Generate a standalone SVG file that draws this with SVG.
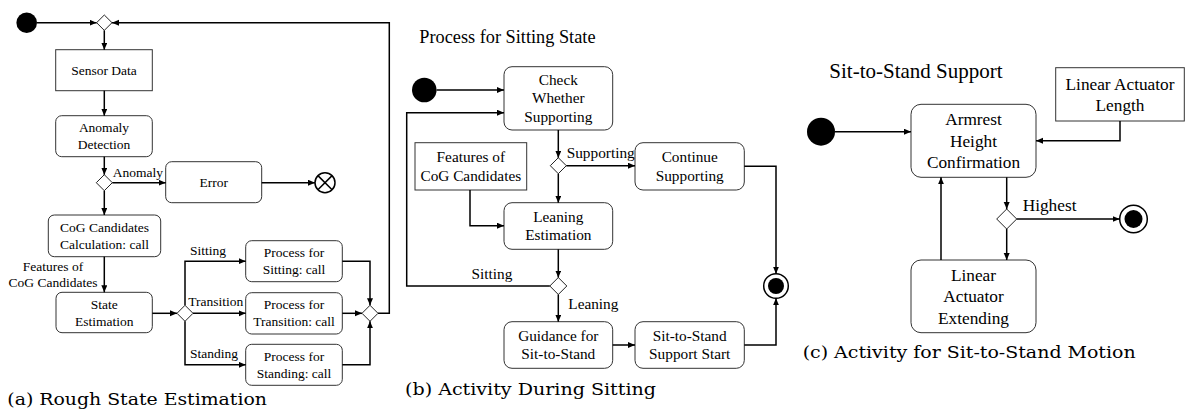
<svg xmlns="http://www.w3.org/2000/svg" width="1186" height="420" viewBox="0 0 1186 420">
<style>
.box{fill:#fff;stroke:#333;stroke-width:1}
.dia{fill:#fff;stroke:#222;stroke-width:1}
.ln{fill:none;stroke:#000;stroke-width:1.5}
.ta{font-family:"Liberation Serif","Times New Roman",serif;font-size:13.5px;fill:#000;text-anchor:middle}
.tb{font-family:"Liberation Serif","Times New Roman",serif;font-size:15.3px;fill:#000;text-anchor:middle}
.tc{font-family:"Liberation Serif","Times New Roman",serif;font-size:17.3px;fill:#000;text-anchor:middle}
.cap{font-family:"DejaVu Serif","Liberation Serif",serif;font-size:16px;fill:#000}
.l{text-anchor:start}
.r{text-anchor:end}
</style>
<defs>
<marker id="ar" markerUnits="userSpaceOnUse" markerWidth="8" markerHeight="7" refX="7" refY="3" orient="auto">
<path d="M0,0 L7,3 L0,6 z" fill="#000"/>
</marker>
</defs>
<!-- Panel (a) -->
<g id="a-start"><circle cx="26.7" cy="22.7" r="10.3" fill="#000"/></g>
<g id="a-merge1"><path class="dia" d="M104.3,15 L112,22.7 L104.3,30.4 L96.6,22.7 z"/></g>
<g id="a-sensor"><rect class="box" x="55.7" y="49.7" width="96.6" height="41"/><text class="ta" x="104" y="74.7">Sensor Data</text></g>
<g id="a-anomaly"><rect class="box" x="55.7" y="115.7" width="96.6" height="41" rx="6"/><text class="ta" x="104" y="132.2">Anomaly</text><text class="ta" x="104" y="149.2">Detection</text></g>
<g id="a-dec1"><path class="dia" d="M104.3,174.7 L112.3,182.7 L104.3,190.7 L96.3,182.7 z"/></g>
<g id="a-error"><rect class="box" x="165.7" y="161.7" width="96" height="41" rx="6"/><text class="ta" x="213.7" y="186.7">Error</text></g>
<g id="a-flowfinal"><circle cx="325" cy="182.7" r="10" fill="#fff" stroke="#000" stroke-width="1.5"/><path d="M317.9,175.6 L332.1,189.8 M332.1,175.6 L317.9,189.8" stroke="#000" stroke-width="1.5"/></g>
<g id="a-cog"><rect class="box" x="48.3" y="215" width="112.4" height="41.7" rx="6"/><text class="ta" x="104.5" y="231.8">CoG Candidates</text><text class="ta" x="104.5" y="248.8">Calculation: call</text></g>
<g id="a-state"><rect class="box" x="56" y="292.3" width="96.3" height="40.4" rx="6"/><text class="ta" x="104.2" y="308.5">State</text><text class="ta" x="104.2" y="325.5">Estimation</text></g>
<g id="a-dec2"><path class="dia" d="M185,305.3 L193,313.3 L185,321.3 L177,313.3 z"/></g>
<g id="a-sitting"><rect class="box" x="245.7" y="240.7" width="96.6" height="41" rx="6"/><text class="ta" x="294" y="257.2">Process for</text><text class="ta" x="294" y="274.2">Sitting: call</text></g>
<g id="a-transition"><rect class="box" x="245.7" y="292.7" width="96.6" height="41.3" rx="6"/><text class="ta" x="294" y="309.3">Process for</text><text class="ta" x="294" y="326.3">Transition: call</text></g>
<g id="a-standing"><rect class="box" x="245.7" y="344.3" width="96.6" height="41" rx="6"/><text class="ta" x="294" y="360.8">Process for</text><text class="ta" x="294" y="377.8">Standing: call</text></g>
<g id="a-merge2"><path class="dia" d="M370,305.3 L378,313.3 L370,321.3 L362,313.3 z"/></g>
<!-- Panel (b) -->
<text class="tb l" x="419.3" y="43" style="font-size:18.3px">Process for Sitting State</text>
<g id="b-start"><circle cx="424.3" cy="90" r="12.3" fill="#000"/></g>
<g id="b-check"><rect class="box" x="504" y="66.7" width="108.7" height="63.3" rx="8"/><text class="tb" x="558.3" y="85">Check</text><text class="tb" x="558.3" y="103.3">Whether</text><text class="tb" x="558.3" y="121.6">Supporting</text></g>
<g id="b-dec1"><path class="dia" d="M558.3,157.7 L566.3,165.7 L558.3,173.7 L550.3,165.7 z"/></g>
<g id="b-continue"><rect class="box" x="635" y="142.7" width="109.3" height="47.3" rx="8"/><text class="tb" x="689.7" y="162.2">Continue</text><text class="tb" x="689.7" y="180.5">Supporting</text></g>
<g id="b-features"><rect class="box" x="415" y="142.7" width="111.7" height="47.3"/><text class="tb" x="470.8" y="162.2">Features of</text><text class="tb" x="470.8" y="180.5">CoG Candidates</text></g>
<g id="b-leaning"><rect class="box" x="504" y="202.7" width="108.7" height="46.6" rx="8"/><text class="tb" x="558.3" y="221.9">Leaning</text><text class="tb" x="558.3" y="240.2">Estimation</text></g>
<g id="b-dec2"><path class="dia" d="M558.3,277.5 L566.8,286 L558.3,294.5 L549.8,286 z"/></g>
<g id="b-guidance"><rect class="box" x="504" y="321.7" width="108.7" height="46.6" rx="8"/><text class="tb" x="558.3" y="340.9">Guidance for</text><text class="tb" x="558.3" y="359.2">Sit-to-Stand</text></g>
<g id="b-sts"><rect class="box" x="635" y="321.7" width="109.3" height="46.6" rx="8"/><text class="tb" x="689.7" y="340.9">Sit-to-Stand</text><text class="tb" x="689.7" y="359.2">Support Start</text></g>
<g id="b-final"><circle cx="776" cy="286" r="12.3" fill="#fff" stroke="#000" stroke-width="1.5"/><circle cx="776" cy="286" r="8" fill="#000"/></g>
<!-- Panel (c) -->
<text class="tc l" x="829.3" y="78.3" style="font-size:21px">Sit-to-Stand Support</text>
<g id="c-start"><circle cx="821" cy="131.7" r="14" fill="#000"/></g>
<g id="c-armrest"><rect class="box" x="911" y="104.3" width="125" height="73" rx="10"/><text class="tc" x="973.5" y="125">Armrest</text><text class="tc" x="973.5" y="146.6">Height</text><text class="tc" x="973.5" y="168.2">Confirmation</text></g>
<g id="c-length"><rect class="box" x="1055.7" y="67.7" width="128.6" height="53.3"/><text class="tc" x="1120" y="89.5">Linear Actuator</text><text class="tc" x="1120" y="111">Length</text></g>
<g id="c-dec"><path class="dia" d="M1006.7,209 L1016.7,219 L1006.7,229 L996.7,219 z"/></g>
<g id="c-final"><circle cx="1133.5" cy="219" r="13.8" fill="#fff" stroke="#000" stroke-width="1.5"/><circle cx="1133.5" cy="219" r="9" fill="#000"/></g>
<g id="c-extending"><rect class="box" x="911" y="260" width="125" height="72.7" rx="10"/><text class="tc" x="973.5" y="280.5">Linear</text><text class="tc" x="973.5" y="302.1">Actuator</text><text class="tc" x="973.5" y="323.7">Extending</text></g>
<!-- Connectors -->
<g id="connectors">
<path class="ln" marker-end="url(#ar)" d="M37,22.7 H96.6"/>
<path class="ln" marker-end="url(#ar)" d="M104.3,30.4 V49.7"/>
<path class="ln" marker-end="url(#ar)" d="M104.3,90.7 V115.7"/>
<path class="ln" marker-end="url(#ar)" d="M104.3,156.7 V174.7"/>
<path class="ln" marker-end="url(#ar)" d="M112.3,182.7 H165.7"/>
<path class="ln" marker-end="url(#ar)" d="M261.7,182.7 H315"/>
<path class="ln" marker-end="url(#ar)" d="M104.3,190.7 V215"/>
<path class="ln" marker-end="url(#ar)" d="M104.3,256.7 V292.3"/>
<path class="ln" marker-end="url(#ar)" d="M152.3,313.3 H177"/>
<path class="ln" marker-end="url(#ar)" d="M185,305.3 V261.2 H245.7"/>
<path class="ln" marker-end="url(#ar)" d="M193,313.3 H245.7"/>
<path class="ln" marker-end="url(#ar)" d="M185,321.3 V364.8 H245.7"/>
<path class="ln" marker-end="url(#ar)" d="M342.3,261.2 H370 V305.3"/>
<path class="ln" marker-end="url(#ar)" d="M342.3,313.3 H362"/>
<path class="ln" marker-end="url(#ar)" d="M342.3,364.8 H370 V321.3"/>
<path class="ln" marker-end="url(#ar)" d="M378,313.3 H389.3 V22.7 H112"/>
<path class="ln" marker-end="url(#ar)" d="M436.6,90 H504"/>
<path class="ln" marker-end="url(#ar)" d="M549.8,286 H406.7 V112.7 H504"/>
<path class="ln" marker-end="url(#ar)" d="M558.3,130 V157.7"/>
<path class="ln" marker-end="url(#ar)" d="M566.3,165.7 H635"/>
<path class="ln" marker-end="url(#ar)" d="M744.3,166.3 H776 V273.7"/>
<path class="ln" marker-end="url(#ar)" d="M470,190 V225.7 H504"/>
<path class="ln" marker-end="url(#ar)" d="M558.3,173.7 V202.7"/>
<path class="ln" marker-end="url(#ar)" d="M558.3,249.3 V277.5"/>
<path class="ln" marker-end="url(#ar)" d="M558.3,294.5 V321.7"/>
<path class="ln" marker-end="url(#ar)" d="M612.7,345 H635"/>
<path class="ln" marker-end="url(#ar)" d="M744.3,345 H776 V298.3"/>
<path class="ln" marker-end="url(#ar)" d="M835,131.7 H911"/>
<path class="ln" marker-end="url(#ar)" d="M1120,121 V140.7 H1036"/>
<path class="ln" marker-end="url(#ar)" d="M1006.7,177.3 V209"/>
<path class="ln" marker-end="url(#ar)" d="M1016.7,219 H1119.7"/>
<path class="ln" marker-end="url(#ar)" d="M1006.7,229 V260"/>
<path class="ln" marker-end="url(#ar)" d="M941,260 V177.3"/>
</g>
<!-- Edge labels -->
<g id="labels">
<text class="ta l" x="112.7" y="177">Anomaly</text>
<text class="ta" x="53" y="271">Features of</text>
<text class="ta" x="53" y="287.3">CoG Candidates</text>
<text class="ta l" x="190" y="255">Sitting</text>
<text class="ta l" x="188.3" y="306">Transition</text>
<text class="ta l" x="190" y="357.7">Standing</text>
<text class="tb l" x="566.7" y="158.3">Supporting</text>
<text class="tb r" x="512.3" y="279.3">Sitting</text>
<text class="tb l" x="568.3" y="309.3">Leaning</text>
<text class="tc l" x="1022.7" y="210.7">Highest</text>
</g>
<!-- Captions -->
<text class="cap" x="7.3" y="405" textLength="259.7" lengthAdjust="spacingAndGlyphs">(a) Rough State Estimation</text>
<text class="cap" x="405" y="395" textLength="251" lengthAdjust="spacingAndGlyphs">(b) Activity During Sitting</text>
<text class="cap" x="802.7" y="358.3" textLength="333" lengthAdjust="spacingAndGlyphs">(c) Activity for Sit-to-Stand Motion</text>
</svg>
